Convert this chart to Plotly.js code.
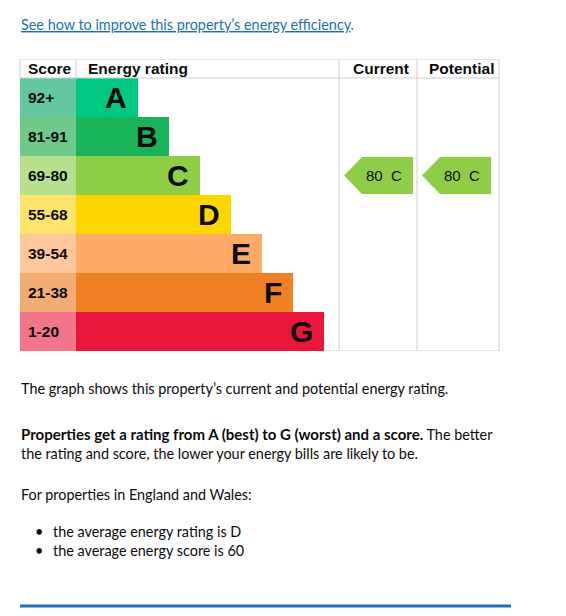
<!DOCTYPE html>
<html><head><meta charset="utf-8">
<script src="https://cdn.plot.ly/plotly-3.0.1.min.js"></script>
<style>html,body{margin:0;padding:0;background:#fff;overflow:hidden}#chart{width:566px;height:616px}</style>
</head><body><div id="chart"></div>
<script>
// ---- data ----
const bands = ['A','B','C','D','E','F','G'];
const scoreRanges = ['92+','81-91','69-80','55-68','39-54','21-38','1-20'];
const bandWidths = [2,3,4,5,6,7,8];
const bandColors = ['#00c781','#19b459','#8dce46','#ffd500','#fcaa65','#ef8023','#e9153b'];
const scoreColors = ['#63c7a1','#6ec98b','#b7e08d','#ffe36a','#fec79c','#f3ac73','#f2758b'];
const headers = ['Score','Energy rating','Current','Potential'];
const currentScore = 80, currentBand = 'C';
const potentialScore = 80, potentialBand = 'C';

// ---- layout geometry (axis units: 1 unit = one band step) ----
const U = 31, W = 566, H = 616;
const px = v => v / U;                 // pixel length -> axis units
const scoreLeft = px(-56), colCurrent = px(263), colPotential = px(341), tableRight = px(423);
const headerRows = 19/39;
const headerY = -0.5 - headerRows/2;
const TEXT = '#0b0c0c', GRID = '#cccccc', BLUE = '#1d70b8';
const bodyFont = 'Lato, "Noto Sans", sans-serif';
const chartFont = '"Liberation Sans", Arial, sans-serif';

const rows = bands.map((b,i)=>i);

const traces = [];
traces.push({type:'bar', orientation:'h', y:rows, x:rows.map(()=>-scoreLeft), base:scoreLeft,
  width:1, marker:{color:scoreColors, line:{width:0}}, hoverinfo:'skip', showlegend:false});
traces.push({type:'bar', orientation:'h', y:rows, x:bandWidths, base:0,
  width:1, marker:{color:bandColors, line:{width:0}}, hoverinfo:'skip', showlegend:false});

function arrow(col, band){
  const r = bands.indexOf(band);
  const t = r - 0.5 + 1/39, b = r + 0.5 - 1/39;
  const tip = col + px(5), sh = col + px(23), rt = col + px(74);
  return {x:[tip, sh, rt, rt, sh, tip], y:[r, t, t, b, b, r]};
}
[[colCurrent,currentBand],[colPotential,potentialBand]].forEach(([c,b])=>{
  const a = arrow(c,b);
  traces.push({type:'scatter', mode:'lines', x:a.x, y:a.y, fill:'toself',
    fillcolor:bandColors[bands.indexOf(b)], line:{width:0, color:bandColors[bands.indexOf(b)]},
    hoverinfo:'skip', showlegend:false});
});

const ann = [];
// header
const headerX = [scoreLeft + px(7), px(11), colCurrent + px(13), colPotential + px(11)];
headers.forEach((h,i)=>ann.push({xref:'x', yref:'y', x:headerX[i], y:headerY, text:h, showarrow:false,
  xanchor:'left', yanchor:'middle', borderpad:0, font:{family:chartFont, size:15.5, weight:'bold', color:TEXT}}));
// score labels
scoreRanges.forEach((s,i)=>ann.push({xref:'x', yref:'y', x:scoreLeft + px(7), y:i, text:s, showarrow:false,
  xanchor:'left', yanchor:'middle', borderpad:0, font:{family:chartFont, size:15.5, weight:'bold', color:TEXT}}));
// band letters
bands.forEach((b,i)=>ann.push({xref:'x', yref:'y', x:bandWidths[i], y:i, xshift:-10, text:b, showarrow:false,
  xanchor:'right', yanchor:'middle', borderpad:0, font:{family:chartFont, size:30, weight:'bold', color:TEXT}}));
// arrow labels
[[colCurrent,currentScore,currentBand],[colPotential,potentialScore,potentialBand]].forEach(([c,s,b])=>{
  ann.push({xref:'x', yref:'y', x:c + px(45), y:bands.indexOf(b), text:s + '\u00a0\u00a0' + b, showarrow:false,
    xanchor:'center', yanchor:'middle', borderpad:0, font:{family:chartFont, size:15, color:TEXT}});
});
// page text
const P = (x,y)=>({x:x/W, y:1 - y/H});
function pt(x,y,text,extra){
  const p = P(x,y);
  ann.push(Object.assign({xref:'paper', yref:'paper', x:p.x, y:p.y, text:text, showarrow:false,
    xanchor:'left', yanchor:'middle', align:'left', borderpad:0,
    font:{family:bodyFont, size:14.4, color:TEXT}}, extra||{}));
}
pt(20, 24, '<span style="text-decoration:underline">See how to improve this property\u2019s energy efficiency</span>.',
   {font:{family:bodyFont, size:14.4, color:BLUE}});
pt(20, 389, 'The graph shows this property\u2019s current and potential energy rating.');
pt(20, 443.5, '<span style="font-size:15px"><b>Properties get a rating from A (best) to G (worst) and a score.</b></span> The better<br>the rating and score, the lower your energy bills are likely to be.');
pt(20, 494, 'For properties in England and Wales:');
pt(34, 531, '\u2022');
pt(34, 550, '\u2022');
pt(52, 531, 'the average energy rating is D');
pt(52, 550, 'the average energy score is 60');

// grid lines of the table
const shapes = [];
const yTop = -0.5 - headerRows, yHead = -0.5, yBot = 6.5;
function ln(x0,y0,x1,y1,layer){shapes.push({type:'line', xref:'x', yref:'y', x0, y0, x1, y1, layer:layer||'above',
  line:{color:GRID, width:1}});}
ln(scoreLeft, yTop, tableRight, yTop);
ln(scoreLeft, yHead, tableRight, yHead);
ln(scoreLeft, yBot, tableRight, yBot, 'below');
ln(scoreLeft, yTop, scoreLeft, yHead);
ln(0, yTop, 0, yHead);
[colCurrent, colPotential, tableRight].forEach(c=>ln(c, yTop, c, yBot));
// blue rule
shapes.push({type:'line', xref:'paper', yref:'paper', x0:20/W, x1:511/W, y0:1-606/H, y1:1-606/H,
  line:{color:BLUE, width:3}});

const layout = {
  width:W, height:H, margin:{l:0,r:0,t:0,b:0}, paper_bgcolor:'#fff', plot_bgcolor:'rgba(0,0,0,0)',
  showlegend:false, barmode:'overlay', bargap:0,
  xaxis:{range:[px(-76), px(W-76)], visible:false, fixedrange:true},
  yaxis:{range:[6.5, yTop], visible:false, fixedrange:true, domain:[1-351/H, 1-59/H]},
  annotations:ann, shapes:shapes, hovermode:false
};
Plotly.newPlot('chart', traces, layout, {displayModeBar:false, staticPlot:true});
</script></body></html>
